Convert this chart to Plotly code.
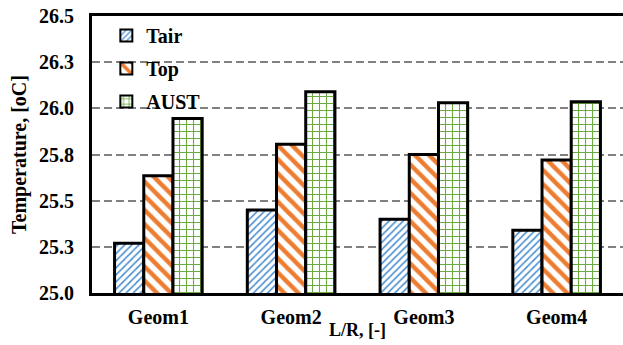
import plotly.graph_objects as go

categories = ["Geom1", "Geom2", "Geom3", "Geom4"]
tair = [25.27, 25.45, 25.40, 25.34]
top = [25.635, 25.805, 25.75, 25.72]
aust = [25.945, 26.09, 26.03, 26.035]
tick_vals = [25.0, 25.25, 25.5, 25.75, 26.0, 26.25, 26.5]
tick_text = ["25.0", "25.3", "25.5", "25.8", "26.0", "26.3", "26.5"]

FONT = "Times New Roman, Liberation Serif, serif"

fig = go.Figure()
series = [
    ("Tair", tair, "/", "#4A8FD0", 5, 0.32),
    ("Top", top, "\\", "#ED7D31", 10, 0.45),
    ("AUST", aust, "+", "#6AAA3E", 7, 0.28),
]
for name, vals, shape, col, size, sol in series:
    fig.add_trace(go.Bar(
        x=categories, y=vals, name=name, legendgroup=name,
        marker=dict(
            color="white",
            line=dict(color="black", width=3),
            pattern=dict(shape=shape, fgcolor=col, bgcolor="white", size=size,
                         solidity=sol, fgopacity=1),
        ),
    ))

fig.update_layout(
    width=623, height=345,
    margin=dict(l=92, r=0, t=16, b=52),
    paper_bgcolor="white", plot_bgcolor="white",
    barmode="group", bargap=0.34, bargroupgap=0,
    font=dict(family=FONT, size=20, color="black"),
    legend=dict(
        x=0.027, y=1.0, xanchor="left", yanchor="top",
        bgcolor="rgba(0,0,0,0)",
        font=dict(family=FONT, size=20, color="black", weight="bold"),
        tracegroupgap=4, itemsizing="constant", traceorder="grouped",
    ),
    showlegend=True,
)
fig.update_xaxes(
    showline=True, linecolor="black", linewidth=3, mirror=True,
    showgrid=False, ticks="", ticklabelstandoff=4,
    tickfont=dict(family=FONT, size=20, color="black", weight="bold"),
)
fig.update_yaxes(
    range=[25.0, 26.5], tickvals=tick_vals, ticktext=tick_text,
    showline=True, linecolor="black", linewidth=3,
    showgrid=True, gridcolor="#808080", gridwidth=2, griddash="8px,4px",
    ticks="", zeroline=False, ticklabelstandoff=11,
    tickfont=dict(family=FONT, size=20, color="black", weight="bold"),
    title=dict(text="Temperature, [oC]", standoff=8,
               font=dict(family=FONT, size=20, color="black", weight="bold")),
)
fig.add_annotation(
    text="L/R, [-]", xref="paper", yref="paper", x=0.5, y=-0.134,
    xanchor="center", yanchor="middle", showarrow=False,
    font=dict(family=FONT, size=18, color="black", weight="bold"),
)

fig.write_html("out.html")
